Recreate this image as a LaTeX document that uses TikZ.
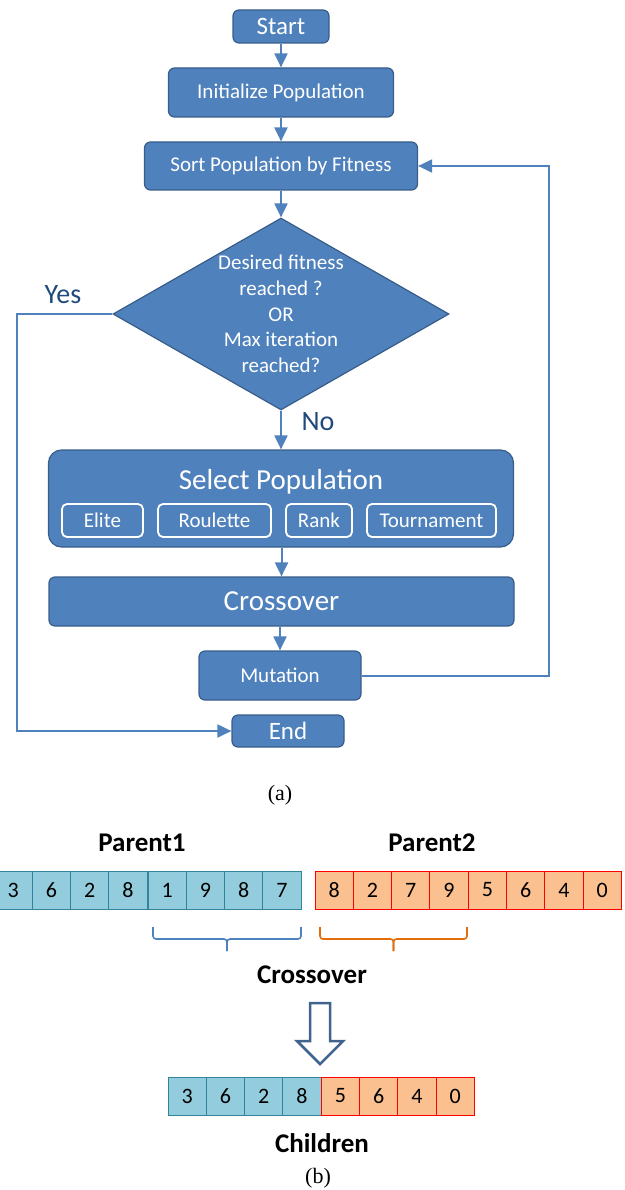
\documentclass[tikz,border=0pt]{standalone}
\usepackage{fontspec}
\setmainfont{Carlito}
\newfontfamily\capfont{Liberation Serif}
\usetikzlibrary{arrows.meta,shapes.geometric}

\definecolor{boxblue}{HTML}{4F81BD}
\definecolor{boxedge}{HTML}{385D8A}
\definecolor{labelblue}{HTML}{1F497D}
\definecolor{cellblue}{HTML}{93CDDD}
\definecolor{celledge}{HTML}{31849B}
\definecolor{cellorange}{HTML}{FAC090}
\definecolor{braceorange}{HTML}{E46C0A}
\definecolor{bigarrow}{HTML}{41648F}

\newcommand{\fsz}[1]{\fontsize{#1}{#1}\selectfont}
% brace under a run of genes: colour, left x, right x, top y
\newcommand{\genebrace}[4]{%
  \draw[#1, line width=1.6pt, rounded corners=3pt]
    (#2,#4) -- (#2,#4+12) -- ({(#2+#3)/2},#4+12) -- ({(#2+#3)/2},#4+24);
  \draw[#1, line width=1.6pt, rounded corners=3pt]
    ({(#2+#3)/2},#4+24) -- ({(#2+#3)/2},#4+12) -- (#3,#4+12) -- (#3,#4);}

\tikzset{
  flowbox/.style={draw=boxedge, fill=boxblue, line width=1.2pt, rounded corners=6pt,
    text=white, inner sep=0pt},
  subbox/.style={draw=white, line width=1.8pt, rounded corners=5pt, text=white,
    inner sep=0pt, minimum height=33pt, font=\fontsize{21}{25}\selectfont},
  decision/.style={diamond, draw=boxedge, fill=boxblue, line width=1.2pt, inner sep=0pt},
  flow/.style={draw=boxblue, line width=2pt, -{Triangle[width=13pt,length=14pt]}},
  answer/.style={text=labelblue, font=\fontsize{28}{30}\selectfont},
  gene/.style={draw=celledge, fill=cellblue, line width=1pt, minimum width=38.3pt,
    minimum height=38pt, inner sep=0pt, font=\fontsize{22}{24}\selectfont},
  geneb/.style={gene, draw=red, fill=cellorange},
  title/.style={font=\bfseries\fontsize{27}{30}\selectfont},
  caption/.style={font=\capfont\fontsize{22}{24}\selectfont}
}

\begin{document}
\begin{tikzpicture}[x=1pt, y=-1pt]
  \useasboundingbox (0,0) rectangle (624,1190);

  % (a) flow chart
  \node[flowbox, minimum width=96pt, minimum height=33pt, font=\fsz{25}] (start) at (281,26.5) {Start};
  \node[flowbox, minimum width=225pt, minimum height=49pt, font=\fsz{21}] (init) at (281,92.5) {Initialize Population};
  \node[flowbox, minimum width=273pt, minimum height=48pt, font=\fsz{21}] (sort) at (281,166) {Sort Population by Fitness};
  \node[decision, minimum width=336pt, minimum height=192pt] (check) at (281,314) {};
  \node[text=white, align=center, font=\fontsize{21}{25.7}\selectfont] (checktext) at (check.center)
    {Desired fitness\\reached ?\\OR\\Max iteration\\reached?};
  \node[flowbox, rounded corners=13pt, minimum width=465pt, minimum height=97pt] (select) at (281,498.5) {};
  \node[text=white, font=\fsz{29}] (seltitle) at (281,482) {Select Population};
  \node[subbox, minimum width=81pt] (elite) at (102.5,520.5) {Elite};
  \node[subbox, minimum width=113pt] (roulette) at (214.5,520.5) {Roulette};
  \node[subbox, minimum width=66pt] (rank) at (319,520.5) {Rank};
  \node[subbox, minimum width=129pt] (tournament) at (431.5,520.5) {Tournament};
  \node[flowbox, minimum width=465pt, minimum height=49pt, font=\fsz{29}] (cross) at (281.5,601.5) {Crossover};
  \node[flowbox, minimum width=162pt, minimum height=49pt, font=\fsz{21}] (mutation) at (280,675.5) {Mutation};
  \node[flowbox, minimum width=112pt, minimum height=32pt, font=\fsz{25}] (end) at (288,731) {End};

  \coordinate (loopx) at (549,400);
  \coordinate (yesx) at (17,500);

  \draw[flow] (start) -- (init);
  \draw[flow] (init) -- (sort);
  \draw[flow] (sort) -- (check);
  \draw[flow] (check) -- (check |- select.north);
  \draw[flow] (select.south -| cross) -- (cross);
  \draw[flow] (cross.south -| mutation) -- (mutation);
  \draw[flow] (mutation.east) -| (loopx) |- (sort.east);
  \draw[flow] (check.west) -| (yesx) |- (end.west);

  \node[answer] (yes) at (63,295) {Yes};
  \node[answer] (no) at (318,422) {No};
  \node[caption] (capa) at (280,795) {(a)};

  % (b) crossover of two parents
  \node[title] (parent1) at (142,843) {Parent1};
  \node[title] (parent2) at (432,843) {Parent2};
  \foreach \g [count=\i from 0] in {3,6,2,8}
    \node[gene] (pa\i) at (-6+19.15+\i*38.3,890) {\g};
  \foreach \g [count=\i from 0] in {1,9,8,7}
    \node[gene] (pb\i) at (148+19.15+\i*38.3,890) {\g};
  \foreach \g [count=\i from 0] in {8,2,7,9,5,6,4,0}
    \node[geneb] (q\i) at (315+19.15+\i*38.3,890) {\g};

  \genebrace{boxblue}{153}{301}{927}
  \genebrace{braceorange}{320}{467}{927}

  \node[title] (crosslabel) at (312,975) {Crossover};
  \coordinate (xarrow) at (320,1003);
  \draw[bigarrow, line width=2.5pt, fill=white, line join=miter]
    (xarrow) ++(-10,0) -- ++(20,0) -- ++(0,38) -- ++(13,0) -- ++(-23,23)
    -- ++(-23,-23) -- ++(13,0) -- cycle;

  \foreach \g [count=\i from 0] in {3,6,2,8}
    \node[gene] (ca\i) at (168+19.15+\i*38.3,1096) {\g};
  \foreach \g [count=\i from 0] in {5,6,4,0}
    \node[geneb] (cb\i) at (321.2+19.15+\i*38.3,1096) {\g};
  \node[title] (children) at (322,1143) {Children};
  \node[caption] (capb) at (318,1178) {(b)};
\end{tikzpicture}
\end{document}
